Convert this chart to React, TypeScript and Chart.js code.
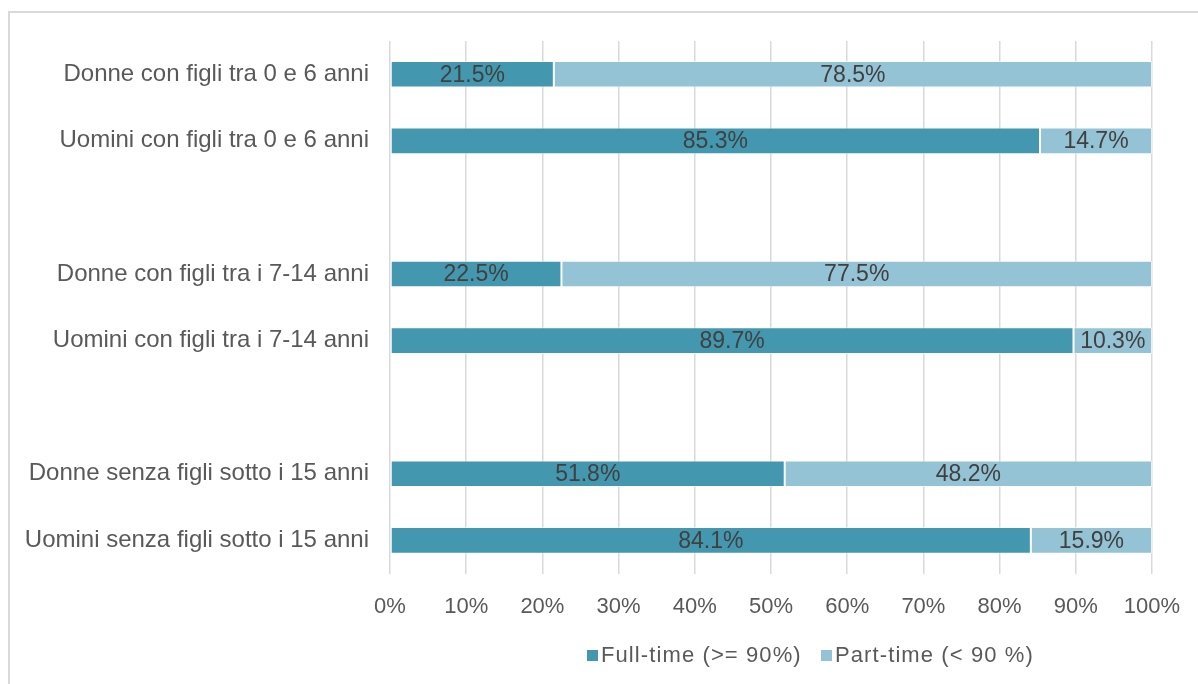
import React, { useEffect, useRef } from "react";
import { Chart, registerables } from "chart.js";

Chart.register(...registerables);

const categories = [
  "Donne con figli tra 0 e 6 anni",
  "Uomini con figli tra 0 e 6 anni",
  "",
  "Donne con figli tra i 7-14 anni",
  "Uomini con figli tra i 7-14 anni",
  "",
  "Donne senza figli sotto i 15 anni",
  "Uomini senza figli sotto i 15 anni",
];
const fullTime = [21.5, 85.3, null, 22.5, 89.7, null, 51.8, 84.1];
const partTime = [78.5, 14.7, null, 77.5, 10.3, null, 48.2, 15.9];
const xTicks = [0, 10, 20, 30, 40, 50, 60, 70, 80, 90, 100];
const seriesNames = ["Full-time (>= 90%)", "Part-time (< 90 %)"];
const colors = ["#4397ae", "#93c3d4"];

const FONT = "'Liberation Sans', Arial, sans-serif";

const labelPlugin = {
  id: "barLabels",
  afterDatasetsDraw(chart: any) {
    const ctx = chart.ctx;
    ctx.save();
    ctx.font = `23px ${FONT}`;
    ctx.fillStyle = "#404040";
    ctx.textAlign = "center";
    ctx.textBaseline = "middle";
    chart.data.datasets.forEach((ds: any, di: number) => {
      const meta = chart.getDatasetMeta(di);
      meta.data.forEach((el: any, i: number) => {
        const v = ds.data[i];
        if (v == null) return;
        const cx = (el.x + el.base) / 2;
        ctx.fillText(v.toFixed(1) + "%", cx, el.y + 1);
      });
    });
    ctx.restore();
  },
};

export default function App() {
  const ref = useRef<HTMLCanvasElement>(null);
  useEffect(() => {
    if (!ref.current) return;
    const chart = new Chart(ref.current, {
      type: "bar",
      data: {
        labels: categories,
        datasets: [
          {
            label: seriesNames[0],
            data: fullTime,
            backgroundColor: colors[0],
            borderColor: "rgba(255,255,255,0.55)",
            borderWidth: 1,
            borderSkipped: false,
            barPercentage: 0.4,
            categoryPercentage: 1,
          },
          {
            label: seriesNames[1],
            data: partTime,
            backgroundColor: colors[1],
            borderColor: "rgba(255,255,255,0.55)",
            borderWidth: 1,
            borderSkipped: false,
            barPercentage: 0.4,
            categoryPercentage: 1,
          },
        ],
      },
      options: {
        indexAxis: "y",
        animation: false,
        responsive: false,
        maintainAspectRatio: false,
        layout: { padding: { top: 28, right: 46, bottom: 44, left: 0 } },
        plugins: {
          legend: { display: false },
          tooltip: { enabled: false },
        },
        scales: {
          x: {
            stacked: true,
            min: 0,
            max: 100,
            afterBuildTicks(scale: any) {
              scale.ticks = xTicks.map((v) => ({ value: v }));
            },
            afterFit(scale: any) {
              scale.paddingLeft = 0;
              scale.paddingRight = 0;
            },
            ticks: {
              callback: (v: any) => v + "%",
              color: "#595959",
              font: { size: 22, family: FONT },
              padding: 20,
              maxRotation: 0,
            },
            grid: { color: "#d9d9d9", lineWidth: 1.5, drawTicks: false },
            border: { display: false },
          },
          y: {
            stacked: true,
            afterFit(scale: any) {
              scale.width = 380;
              scale.paddingTop = 0;
              scale.paddingBottom = 0;
            },
            ticks: {
              color: "#595959",
              font: { size: 24, family: FONT },
              padding: 21,
              autoSkip: false,
            },
            grid: { display: false, drawTicks: false },
            border: { display: false },
          },
        },
      },
      plugins: [labelPlugin],
    } as any);
    return () => chart.destroy();
  }, []);

  const legendText: React.CSSProperties = {
    position: "absolute",
    top: 643,
    fontFamily: FONT,
    fontSize: 22,
    letterSpacing: "1.1px",
    color: "#595959",
    lineHeight: "24px",
    whiteSpace: "nowrap",
  };
  const sq = (left: number, color: string): React.CSSProperties => ({
    position: "absolute",
    left,
    top: 650,
    width: 11,
    height: 11,
    background: color,
  });

  return (
    <div style={{ position: "fixed", inset: 0, overflow: "hidden", background: "#fff" }}>
      <div
        style={{
          position: "absolute",
          left: 8,
          top: 11,
          width: 1210,
          height: 700,
          border: "2px solid #d9d9d9",
          boxSizing: "border-box",
        }}
      />
      <canvas
        ref={ref}
        width={1188}
        height={671}
        style={{ position: "absolute", left: 10, top: 13, width: 1188, height: 671 }}
      />
      <div style={sq(587, colors[0])} />
      <div style={{ ...legendText, left: 601 }}>{seriesNames[0]}</div>
      <div style={sq(821, colors[1])} />
      <div style={{ ...legendText, left: 835 }}>{seriesNames[1]}</div>
    </div>
  );
}
